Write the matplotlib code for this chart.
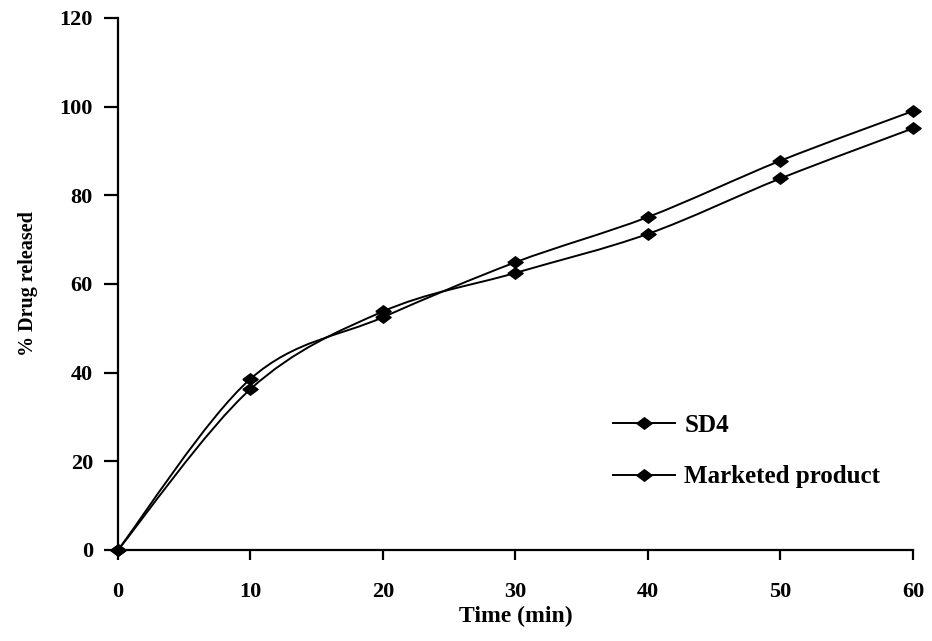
import numpy as np
import matplotlib.pyplot as plt
from matplotlib.path import Path
from matplotlib.patches import PathPatch
from matplotlib.lines import Line2D

time_min = [0, 10, 20, 30, 40, 50, 60]
sd4 = [0, 38.6, 52.5, 64.9, 75.1, 87.8, 99.0]
marketed = [0, 36.3, 53.8, 62.5, 71.3, 83.8, 95.1]
labels = ["SD4", "Marketed product"]

plt.rcParams['font.family'] = ['Liberation Serif', 'DejaVu Serif']
plt.rcParams['font.weight'] = 'bold'

# the original chart is a bit stretched sideways, so the diamonds are wide
wide_diamond = [(-1, 0), (0, 0.75), (1, 0), (0, -0.75), (-1, 0)]


def smooth_path(x, y):
    # Excel-style smoothed line: Catmull-Rom segments as cubic Bezier curves
    pts = np.column_stack([x, y]).astype(float)
    ext = np.vstack([pts[0], pts, pts[-1]])
    verts = [pts[0]]
    codes = [Path.MOVETO]
    for i in range(1, len(ext) - 2):
        p0, p1, p2, p3 = ext[i - 1], ext[i], ext[i + 1], ext[i + 2]
        verts += [p1 + (p2 - p0) / 6, p2 - (p3 - p1) / 6, p2]
        codes += [Path.CURVE4] * 3
    return Path(verts, codes)


fig = plt.figure(figsize=(9.32, 6.41), dpi=100)
ax = fig.add_axes([0.1266, 0.142, 0.853, 0.83])

for ys in (sd4, marketed):
    ax.add_patch(PathPatch(smooth_path(time_min, ys), fill=False,
                           edgecolor='black', lw=1.4))
    ax.plot(time_min, ys, ls='none', marker=wide_diamond, ms=11,
            color='black', clip_on=False, zorder=5)

ax.set_xlim(0, 60)
ax.set_ylim(0, 120)
ax.set_xticks(range(0, 61, 10))
ax.set_yticks(range(0, 121, 20))
for s in ('top', 'right'):
    ax.spines[s].set_visible(False)
for s in ('left', 'bottom'):
    ax.spines[s].set_linewidth(1.6)
ax.tick_params(axis='y', direction='out', length=10, width=1.6,
               labelsize=16, pad=8)
ax.tick_params(axis='x', direction='out', length=7, width=1.6,
               labelsize=16, pad=16)

ax.set_xlabel('Time (min)', fontsize=17, fontweight='bold')
ax.xaxis.set_label_coords(0.5, -0.105)
ax.set_ylabel('% Drug released', fontsize=14.5, fontweight='bold')
ax.yaxis.set_label_coords(-0.1, 0.5)

handles = [Line2D([], [], color='black', lw=1.4, marker=wide_diamond, ms=11)
           for _ in labels]
ax.legend(handles, labels, loc='center left', bbox_to_anchor=(0.6226, 0.186),
          frameon=False, handlelength=2.5, handletextpad=0.35,
          labelspacing=1.15, borderpad=0, borderaxespad=0,
          prop={'weight': 'bold', 'size': 18})

fig.savefig('out.png', dpi=100)
